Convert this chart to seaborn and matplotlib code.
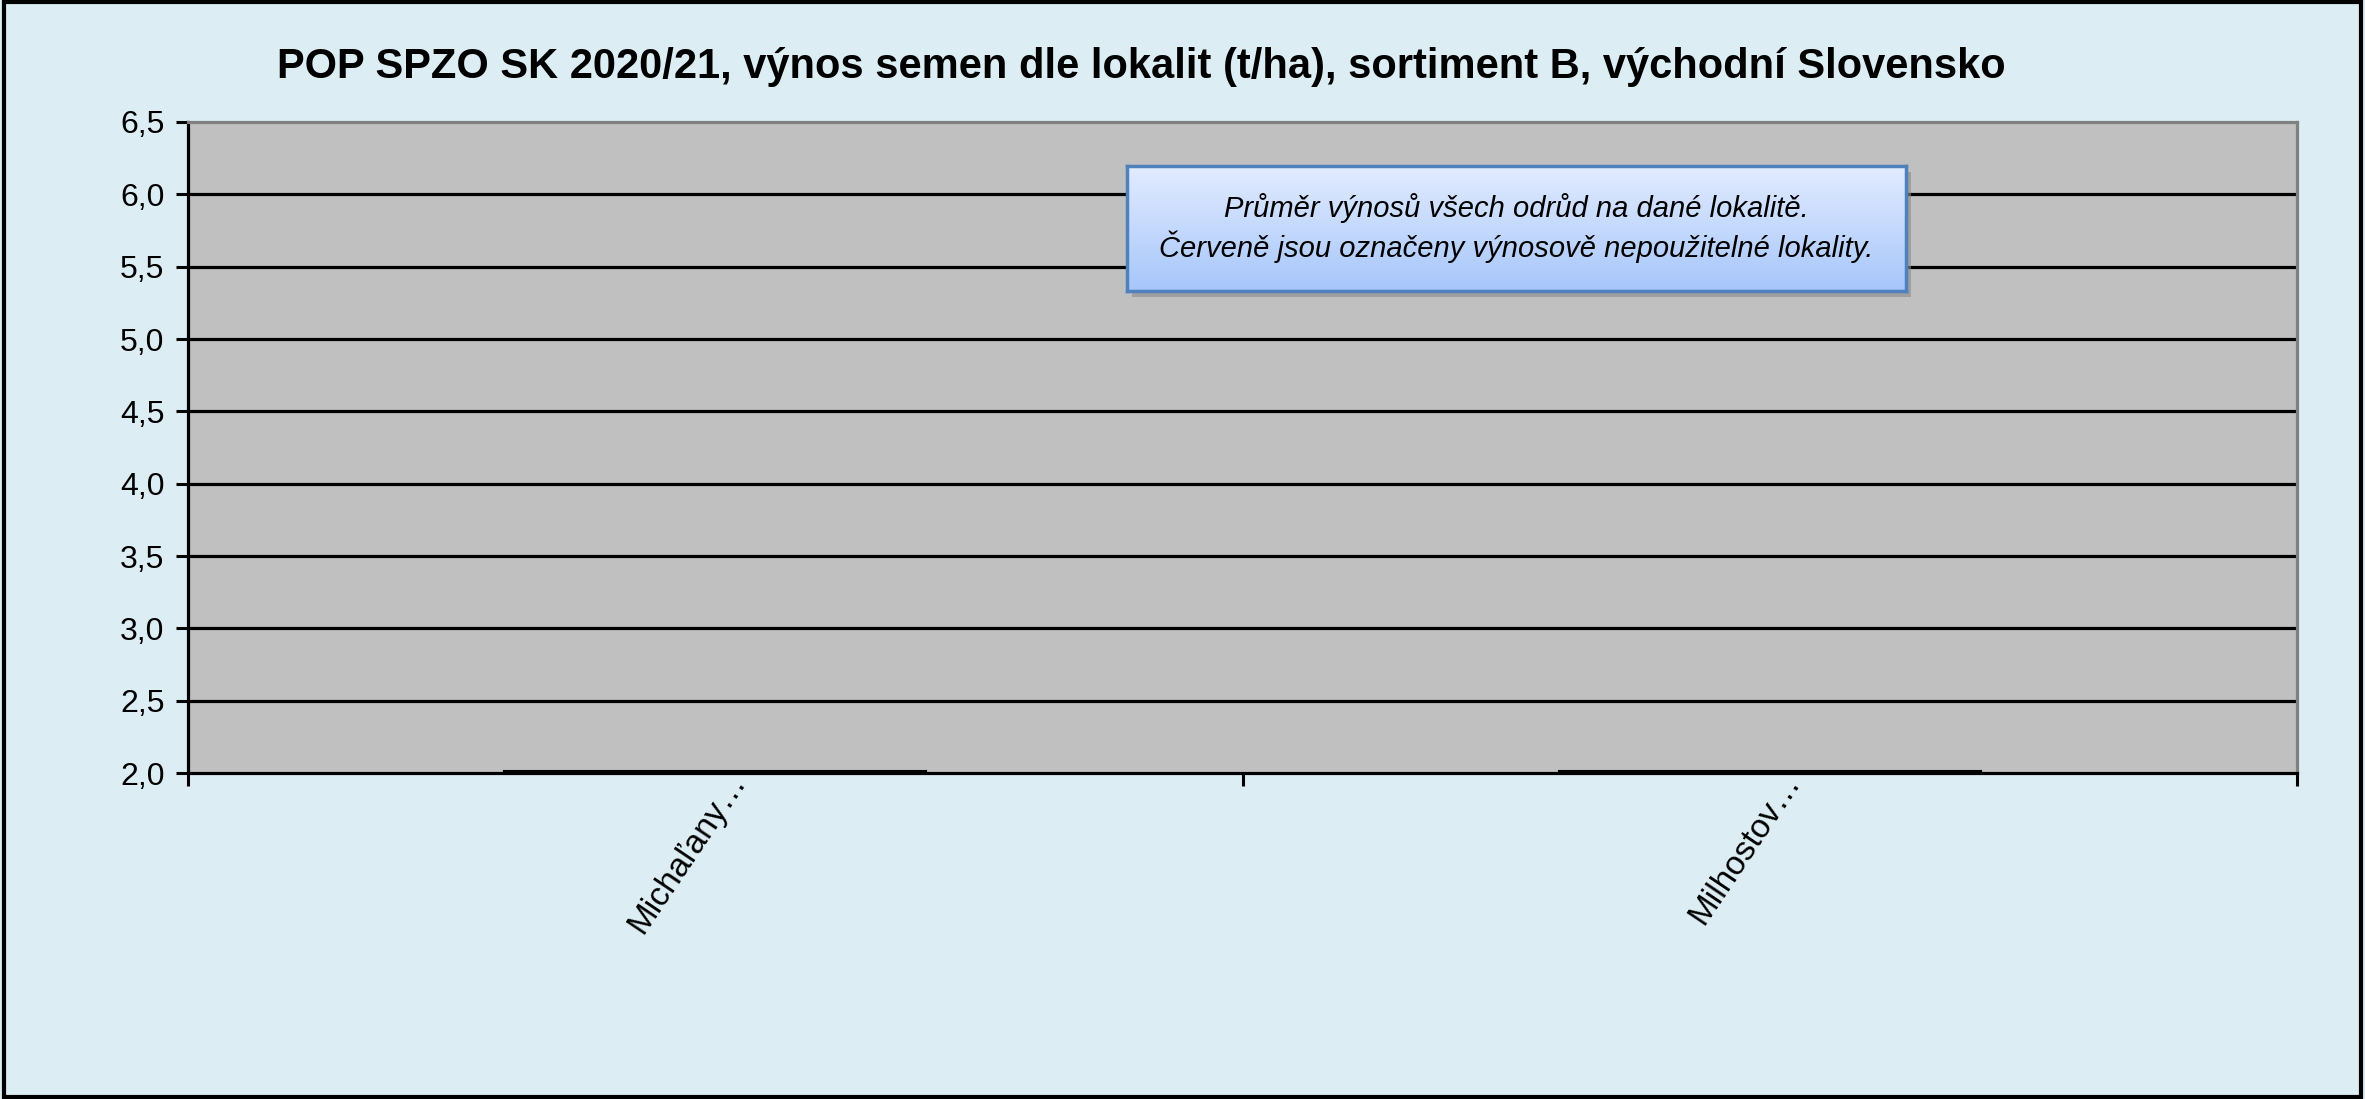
import numpy as np
import pandas as pd
import matplotlib
matplotlib.use("Agg")
import matplotlib.pyplot as plt
import matplotlib.transforms as mtransforms
import seaborn as sns
from matplotlib.patches import Rectangle

# data
lokality = ["Michaľany…", "Milhostov…"]
vynos = [2.012, 2.012]
y_ticks = [2.0, 2.5, 3.0, 3.5, 4.0, 4.5, 5.0, 5.5, 6.0, 6.5]

title = "POP SPZO SK 2020/21, výnos semen dle lokalit (t/ha), sortiment B, východní Slovensko"
note = "Průměr výnosů všech odrůd na dané lokalitě.\nČerveně jsou označeny výnosově nepoužitelné lokality."

sns.set_theme(style="white")
plt.rcParams["font.family"] = ["Liberation Sans", "DejaVu Sans"]
plt.rcParams["text.color"] = "black"
plt.rcParams["xtick.color"] = "black"
plt.rcParams["ytick.color"] = "black"

bg = "#DCEEF4"
fig = plt.figure(figsize=(23.65, 10.99), dpi=100, facecolor=bg)
ax = fig.add_axes([0.0795, 0.2966, 0.8918, 0.5924])
ax.set_facecolor("#C0C0C0")

df = pd.DataFrame({"lokalita": lokality, "vynos": vynos})
sns.barplot(df, x="lokalita", y="vynos", color="black", width=0.4,
            saturation=1, edgecolor="black", linewidth=1.5, ax=ax, zorder=3)

ax.set_ylim(2.0, 6.5)
ax.set_xlim(-0.5, len(lokality) - 0.5)
ax.set_yticks(y_ticks)
ax.set_yticklabels([f"{v:.1f}".replace(".", ",") for v in y_ticks], fontsize=23)
for v in y_ticks[1:-1]:
    ax.axhline(v, color="black", lw=2.3, zorder=2)

ax.set_xticks(range(len(lokality)))
ax.set_xticks(np.arange(-0.5, len(lokality)), minor=True)
ax.tick_params(axis="x", which="major", length=0, pad=6)
ax.tick_params(axis="x", which="minor", length=9, width=2.2, color="black",
               direction="out", bottom=True)
ax.tick_params(axis="y", length=9, width=2.2, color="black", left=True,
               direction="out", pad=8)
ax.set_xticklabels(lokality, rotation=56, ha="right", va="baseline",
                   rotation_mode="anchor", fontsize=24)
# nudge the rotated labels to the right, like the original
shift = mtransforms.ScaledTranslation(0.31, 0, fig.dpi_scale_trans)
for lbl in ax.get_xticklabels():
    lbl.set_transform(lbl.get_transform() + shift)
ax.set_xlabel("")
ax.set_ylabel("")

for s in ["left", "bottom"]:
    ax.spines[s].set_color("black")
    ax.spines[s].set_linewidth(2.3)
for s in ["top", "right"]:
    ax.spines[s].set_color("#808080")
    ax.spines[s].set_linewidth(2.3)

fig.text(0.4825, 0.939, title, ha="center", va="center", fontsize=30,
         fontweight="bold", color="black")

# note box with gradient and shadow
bx, by, bw, bh = 0.4765, 0.7355, 0.3294, 0.1137
fig.patches.append(Rectangle((bx + 0.002, by - 0.006), bw, bh, transform=fig.transFigure,
                             facecolor="#8a8a8a", edgecolor="none", alpha=0.6, zorder=5))
nax = fig.add_axes([bx, by, bw, bh], zorder=6)
grad = np.linspace(0, 1, 256)[:, None]
top_c = np.array([226, 236, 255]) / 255
bot_c = np.array([166, 198, 250]) / 255
img = top_c[None, None, :] * (1 - grad[..., None]) + bot_c[None, None, :] * grad[..., None]
nax.imshow(img, aspect="auto", extent=[0, 1, 0, 1])
nax.set_xticks([])
nax.set_yticks([])
for s in nax.spines.values():
    s.set_color("#4F81BD")
    s.set_linewidth(2.5)
nax.text(0.5, 0.5, note, ha="center", va="center", fontsize=21, style="italic",
         linespacing=1.3, transform=nax.transAxes)

fig.patches.append(Rectangle((0.0015, 0.002), 0.997, 0.996, transform=fig.transFigure,
                             facecolor="none", edgecolor="black", lw=3, zorder=10))

fig.savefig("out.png", dpi=100, facecolor=bg)
